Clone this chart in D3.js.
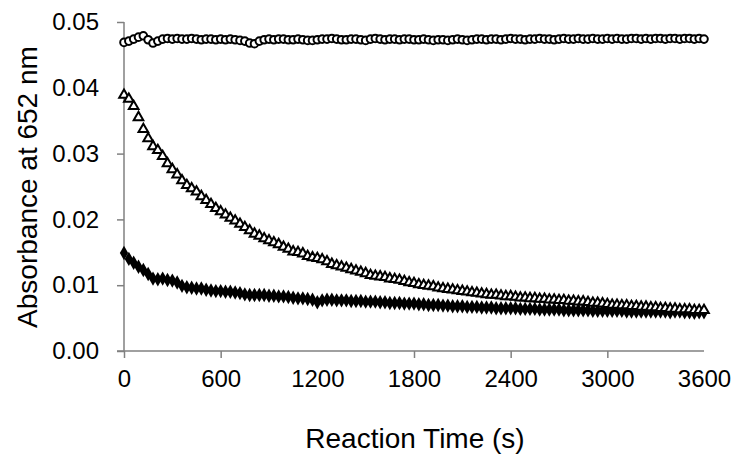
<!DOCTYPE html>
<html><head><meta charset="utf-8">
<script src="https://cdn.jsdelivr.net/npm/d3@7"></script>
<style>body{margin:0;background:#fff}svg{display:block}</style>
</head><body><svg id="c" width="750" height="471"></svg>
<script>
const times = d3.range(0, 3601, 30);
const circleVals = [.0469,.0471,.0474,.0477,.0479,.0473,.0468,.0471,.0474,.0475,.0474,.0475,.0474,.0474,.0475,.0474,.0473,.0474,.0474,.0473,
.0474,.0473,.0474,.0473,.0472,.0471,.0468,.0467,.0471,.0473,.0474,.0473,.0474,.0474,.0473,.0473,.0474,.0473,.0472,.0472,
.0473,.0474,.0474,.0475,.0474,.0473,.0473,.0474,.0474,.0473,.0472,.0474,.0475,.0474,.0473,.0474,.0474,.0473,.0474,.0474,
.0473,.0473,.0474,.0473,.0472,.0473,.0473,.0472,.0473,.0474,.0473,.0472,.0473,.0474,.0474,.0473,.0474,.0474,.0473,.0474,
.0475,.0474,.0474,.0473,.0474,.0474,.0475,.0474,.0474,.0473,.0474,.0475,.0474,.0474,.0475,.0474,.0474,.0475,.0474,.0474,
.0475,.0474,.0475,.0474,.0474,.0475,.0475,.0474,.0475,.0474,.0475,.0475,.0474,.0475,.0475,.0474,.0475,.0475,.0474,.0475,.0474];
const triangleVals = [.0389,.0383,.0372,.0355,.0337,.0323,.0311,.0305,.0296,.0285,.0276,.0268,.0259,.0252,.0247,.0242,.0235,.0229,.0223,.0217,
.0212,.0207,.0202,.0198,.0193,.0188,.0183,.0178,.0175,.0171,.0168,.0165,.0162,.0158,.0155,.0151,.0150,.0148,.0144,.0142,
.0141,.0139,.0136,.0132,.0130,.0128,.0126,.0124,.0122,.0120,.0118,.0115,.0114,.0113,.0112,.0110,.0109,.0108,.0106,.0104,
.0103,.0101,.0100,.0099,.0098,.0096,.0095,.0094,.0093,.0092,.0091,.0090,.0089,.0088,.0087,.0086,.0085,.0085,.0084,.0083,
.0083,.0082,.0081,.0081,.0080,.0080,.0079,.0079,.0078,.0078,.0077,.0077,.0076,.0076,.0075,.0075,.0074,.0073,.0073,.0072,
.0071,.0070,.0070,.0069,.0069,.0068,.0068,.0067,.0067,.0066,.0066,.0065,.0065,.0064,.0064,.0063,.0063,.0063,.0062,.0062,.0062];
const diamondVals = [.0149,.0140,.0134,.0128,.0123,.0117,.0110,.0109,.0110,.0108,.0107,.0104,.0099,.0097,.0096,.0095,.0095,.0093,.0092,.0091,
.0091,.0090,.0090,.0089,.0088,.0086,.0085,.0085,.0085,.0085,.0084,.0084,.0083,.0083,.0082,.0081,.0080,.0080,.0079,.0078,
.0074,.0077,.0078,.0078,.0077,.0077,.0077,.0076,.0076,.0076,.0075,.0075,.0075,.0074,.0074,.0073,.0073,.0073,.0072,.0072,
.0072,.0071,.0071,.0070,.0070,.0070,.0069,.0069,.0068,.0068,.0068,.0067,.0067,.0067,.0066,.0066,.0066,.0065,.0065,.0065,
.0065,.0065,.0064,.0064,.0064,.0064,.0063,.0063,.0063,.0063,.0063,.0062,.0062,.0062,.0062,.0062,.0062,.0061,.0061,.0061,
.0061,.0061,.0061,.0061,.0060,.0060,.0060,.0060,.0060,.0060,.0060,.0060,.0060,.0059,.0060,.0060,.0059,.0059,.0058,.0059,.0059];
const xTicks = [0, 600, 1200, 1800, 2400, 3000, 3600];
const yTicks = [0, 0.01, 0.02, 0.03, 0.04, 0.05];
const xTitle = "Reaction Time (s)";
const yTitle = "Absorbance at 652 nm";

const svg = d3.select("#c");
const x = d3.scaleLinear().domain([0, 3600]).range([124, 704]);
const y = d3.scaleLinear().domain([0, 0.05]).range([351, 22]);
const font = "'Liberation Sans', Arial, sans-serif";
const axisColor = "#808080";

const gx = svg.append("g").attr("transform", `translate(0,${y(0)})`)
  .call(d3.axisBottom(x).tickValues(xTicks).tickSize(7).tickPadding(12).tickSizeOuter(0).tickFormat(d3.format("d")));
const gy = svg.append("g").attr("transform", `translate(${x(0)},0)`)
  .call(d3.axisLeft(y).tickValues(yTicks).tickSize(7).tickPadding(18).tickSizeOuter(0).tickFormat(d3.format(".2f")));
[gx, gy].forEach(g => {
  g.select(".domain").attr("stroke", axisColor).attr("stroke-width", 1.5);
  g.selectAll(".tick line").attr("stroke", axisColor).attr("stroke-width", 1.5);
  g.selectAll(".tick text").attr("font-family", font).attr("font-size", 24).attr("fill", "#000");
});
// thin tick marks that vanish in the reference
gx.selectAll(".tick line").filter(d => d === 1200 || d === 3600).remove();
gy.selectAll(".tick line").filter(d => d === 0.04).remove();
gy.selectAll(".tick line").attr("x1", 0);
gy.selectAll(".tick line").filter(d => d !== 0).attr("x2", -7);
gx.select(".domain").attr("d", `M${x(0) - 7},0H${x(3600)}`);
gy.select(".domain").attr("d", `M0,${y(0.05)}V${y(0)}`);

svg.append("text").attr("x", 415).attr("y", 448).attr("text-anchor", "middle")
  .attr("font-family", font).attr("font-size", 28).attr("fill", "#000").text(xTitle);
svg.append("text").attr("transform", `translate(37,187) rotate(-90)`).attr("text-anchor", "middle")
  .attr("font-family", font).attr("font-size", 28).attr("fill", "#000").text(yTitle);

const plot = svg.append("g");
plot.selectAll("path.dia").data(times.map((t, i) => [t, diamondVals[i]])).join("path")
  .attr("class", "dia")
  .attr("d", d3.symbol(d3.symbolDiamond, 60)())
  .attr("transform", d => `translate(${x(d[0])},${y(d[1])})`)
  .attr("fill", "#000");
plot.selectAll("path.tri").data(times.map((t, i) => [t, triangleVals[i]])).join("path")
  .attr("class", "tri")
  .attr("d", d3.symbol(d3.symbolTriangle, 40)())
  .attr("transform", d => `translate(${x(d[0])},${y(d[1])})`)
  .attr("fill", "#fff").attr("stroke", "#000").attr("stroke-width", 2);
plot.selectAll("circle.cir").data(times.map((t, i) => [t, circleVals[i]])).join("circle")
  .attr("class", "cir")
  .attr("cx", d => x(d[0])).attr("cy", d => y(d[1])).attr("r", 3.8)
  .attr("fill", "#fff").attr("stroke", "#000").attr("stroke-width", 2);
</script></body></html>
